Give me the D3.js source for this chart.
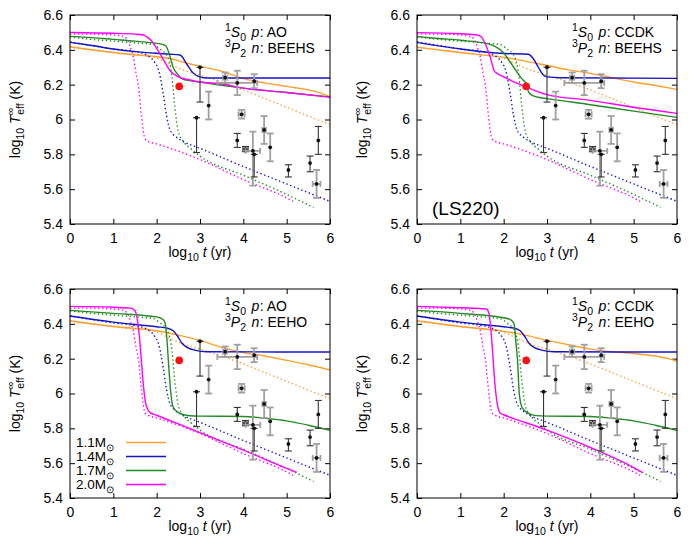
<!DOCTYPE html>
<html>
<head>
<meta charset="utf-8">
<script src="https://cdn.jsdelivr.net/npm/d3@7"></script>
<style>
  body { margin: 0; background: #fff; }
  svg { display: block; }
  text { font-family: "Liberation Sans", Arial, sans-serif; fill: #000; }
</style>
</head>
<body>
<svg id="chart" width="692" height="553"></svg>
<script>
// axis ticks
var xTicks = [0, 1, 2, 3, 4, 5, 6];
var yTicks = [5.4, 5.6, 5.8, 6.0, 6.2, 6.4, 6.6];

var masses = ["1.1", "1.4", "1.7", "2.0"];
var massColors = ["#ff9f2e", "#1414c8", "#228b22", "#ff00ff"];

// dotted curves (same in every panel)  [log t, log T]
var dotted11 = [[0,6.415],[0.5,6.40],[1,6.385],[1.5,6.37],[1.9,6.36],[2.2,6.33],[2.5,6.295],[3,6.255],[3.5,6.215],[4,6.17],[4.5,6.12],[5,6.07],[5.5,6.02],[6,5.97]];
var dotted14 = [[0,6.445],[0.5,6.425],[1,6.405],[1.5,6.39],[1.77,6.37],[1.95,6.33],[2.05,6.28],[2.15,6.15],[2.23,6.02],[2.31,5.94],[2.45,5.90],[2.6,5.875],[3,5.835],[4,5.73],[5,5.63],[6,5.53]];
var dotted17 = [[0,6.475],[0.5,6.46],[1,6.45],[1.5,6.44],[1.92,6.43],[2.1,6.40],[2.23,6.37],[2.35,6.25],[2.42,6.07],[2.5,5.93],[2.6,5.88],[2.8,5.83],[3,5.79],[4,5.68],[5,5.57],[5.62,5.495]];
var dotted20 = [[0,6.49],[0.5,6.49],[1,6.485],[1.2,6.48],[1.31,6.465],[1.4,6.41],[1.46,6.36],[1.52,6.27],[1.58,6.19],[1.65,6.02],[1.73,5.89],[1.8,5.875],[2,5.86],[3,5.77],[4,5.655],[5,5.55],[5.15,5.53]];

// solid curves, 1S0 p: AO / 3P2 n: BEEHS
var aoBeehs11 = [[0,6.418],[1,6.385],[2,6.36],[2.31,6.35],[2.6,6.33],[3,6.305],[3.46,6.28],[4,6.235],[4.5,6.21],[5,6.19],[5.5,6.17],[5.8,6.15],[6,6.13]];
var aoBeehs14 = [[0,6.443],[0.5,6.425],[1,6.405],[1.5,6.39],[2,6.38],[2.31,6.375],[2.54,6.37],[2.69,6.32],[2.85,6.265],[3.08,6.24],[3.3,6.238],[6,6.238]];
var aoBeehs17 = [[0,6.477],[0.5,6.47],[1,6.46],[1.5,6.45],[2,6.437],[2.15,6.43],[2.22,6.42],[2.31,6.36],[2.38,6.30],[2.5,6.255],[2.6,6.232],[3,6.215],[4,6.18],[5,6.155],[6,6.13]];
var aoBeehs20 = [[0,6.50],[0.5,6.497],[1,6.495],[1.5,6.49],[1.69,6.485],[1.8,6.47],[1.92,6.44],[2.02,6.40],[2.12,6.36],[2.31,6.28],[2.5,6.245],[2.77,6.227],[3,6.215],[3.46,6.205],[4,6.18],[5,6.155],[6,6.128]];

// 1S0 p: CCDK / 3P2 n: BEEHS
var ccdkBeehs11 = [[0,6.415],[1,6.385],[2,6.357],[2.5,6.335],[3,6.31],[3.5,6.285],[4,6.265],[4.5,6.24],[5,6.215],[5.5,6.195],[6,6.173]];
var ccdkBeehs14 = [[0,6.443],[1,6.405],[1.91,6.38],[2.57,6.375],[2.68,6.35],[2.8,6.30],[2.9,6.26],[3,6.245],[3.3,6.24],[6,6.236]];
var ccdkBeehs17 = [[0,6.476],[0.5,6.465],[1,6.455],[1.6,6.437],[1.8,6.42],[1.99,6.385],[2.15,6.33],[2.3,6.275],[2.45,6.225],[2.53,6.205],[2.57,6.16],[2.65,6.14],[2.8,6.128],[3,6.12],[4,6.085],[5,6.048],[6,6.012]];
var ccdkBeehs20 = [[0,6.499],[1,6.492],[1.4,6.485],[1.5,6.47],[1.6,6.42],[1.7,6.35],[1.78,6.28],[1.85,6.265],[2,6.245],[2.14,6.227],[2.5,6.188],[3,6.143],[4,6.11],[5,6.07],[6,6.035]];

// 1S0 p: AO / 3P2 n: EEHO
var aoEeho11 = [[0,6.418],[1,6.385],[2,6.36],[2.5,6.335],[3,6.305],[3.5,6.265],[4,6.235],[4.5,6.215],[5,6.19],[5.5,6.165],[6,6.135]];
var aoEeho14 = [[0,6.445],[1,6.41],[2,6.383],[2.25,6.375],[2.38,6.36],[2.48,6.33],[2.58,6.29],[2.7,6.265],[2.9,6.248],[3.15,6.24],[6,6.238]];
var aoEeho17 = [[0,6.477],[1,6.46],[2,6.44],[2.15,6.425],[2.2,6.40],[2.24,6.30],[2.28,6.15],[2.32,6.02],[2.37,5.93],[2.45,5.90],[2.6,5.88],[2.77,5.872],[3,5.87],[4,5.868],[4.5,5.858],[5,5.843],[5.5,5.818],[6,5.788]];
var aoEeho20 = [[0,6.50],[1,6.495],[1.4,6.49],[1.5,6.475],[1.55,6.43],[1.6,6.33],[1.65,6.18],[1.7,6.03],[1.76,5.93],[1.85,5.89],[2,5.875],[3,5.775],[4,5.675],[5,5.57],[5.23,5.547]];

// 1S0 p: CCDK / 3P2 n: EEHO
var ccdkEeho11 = [[0,6.418],[1,6.385],[2,6.357],[2.5,6.335],[3,6.305],[3.5,6.28],[4,6.255],[4.5,6.24],[5,6.23],[5.5,6.215],[5.8,6.20],[6,6.185]];
var ccdkEeho14 = [[0,6.445],[1,6.41],[2,6.383],[2.25,6.375],[2.38,6.36],[2.48,6.33],[2.58,6.29],[2.7,6.265],[2.9,6.248],[3.15,6.24],[6,6.238]];
var ccdkEeho17 = [[0,6.477],[1,6.46],[2,6.435],[2.15,6.425],[2.24,6.40],[2.28,6.30],[2.32,6.19],[2.36,6.0],[2.43,5.917],[2.55,5.89],[2.74,5.873],[3,5.87],[4,5.868],[4.5,5.858],[5,5.843],[5.5,5.818],[6,5.788]];
var ccdkEeho20 = [[0,6.50],[1,6.492],[1.6,6.485],[1.66,6.46],[1.73,6.29],[1.8,6.05],[1.86,5.93],[1.93,5.885],[2,5.878],[3,5.79],[4,5.69],[5,5.575],[5.2,5.547]];

// observed neutron stars
var obsAge     = [3.00, 2.92, 3.20, 3.58, 3.86, 4.25, 3.96, 3.86, 4.05, 4.22, 4.25, 4.48, 4.62, 5.04, 5.54, 5.73, 5.69];
var obsTemp    = [6.30, 6.01, 6.08, 6.24, 6.21, 6.22, 6.03, 5.88, 5.83, 5.82, 5.80, 5.94, 5.84, 5.71, 5.75, 5.88, 5.63];
var obsTempLo  = [0.20, 0.20, 0.08, 0.03, 0.07, 0.04, 0.025, 0.04, 0.015, 0.20, 0.13, 0.08, 0.08, 0.04, 0.05, 0.08, 0.08];
var obsTempHi  = [0.00, 0.00, 0.08, 0.03, 0.07, 0.04, 0.025, 0.04, 0.015, 0.11, 0.00, 0.08, 0.08, 0.03, 0.04, 0.08, 0.08];
var obsAgeErr  = [0, 0, 0, 0.05, 0.46, 0, 0.07, 0, 0.06, 0.17, 0, 0.04, 0, 0, 0, 0, 0.09];
var obsGray    = [0, 0, 1, 1, 1, 1, 1, 0, 0, 1, 0, 1, 1, 0, 0, 0, 1];

// the highlighted source
var redAge = 2.52, redTemp = 6.19;

var panels = [
  { left: 70,  top: 15,  p: "AO",   n: "BEEHS", curves: [aoBeehs11, aoBeehs14, aoBeehs17, aoBeehs20] },
  { left: 417, top: 15,  p: "CCDK", n: "BEEHS", curves: [ccdkBeehs11, ccdkBeehs14, ccdkBeehs17, ccdkBeehs20], tag: "(LS220)" },
  { left: 70,  top: 289, p: "AO",   n: "EEHO",  curves: [aoEeho11, aoEeho14, aoEeho17, aoEeho20], legend: true },
  { left: 417, top: 289, p: "CCDK", n: "EEHO",  curves: [ccdkEeho11, ccdkEeho14, ccdkEeho17, ccdkEeho20] }
];
var dottedCurves = [dotted11, dotted14, dotted17, dotted20];

var W = 260, H = 209, FS = 14;
var svg = d3.select("#chart");

var richText = function(sel, segs, size) {
  var cur = 0;
  segs.forEach(function(s) {
    var target = s.sup ? -0.42 * size : (s.sub ? 0.32 * size : 0);
    var ts = sel.append("tspan").text(s.t).attr("dy", target - cur);
    if (s.sup || s.sub) ts.attr("font-size", size * 0.75);
    if (s.it) ts.attr("font-style", "italic");
    if (s.dx) ts.attr("dx", s.dx);
    cur = target;
  });
};

var fmt = function(d) { return String(+d.toFixed(1)); };

panels.forEach(function(pn, pi) {
  var x = d3.scaleLinear().domain([0, 6]).range([0, W]);
  var y = d3.scaleLinear().domain([5.4, 6.6]).range([H, 0]);
  var g = svg.append("g").attr("transform", "translate(" + pn.left + "," + pn.top + ")");

  g.append("clipPath").attr("id", "clip" + pi)
    .append("rect").attr("width", W).attr("height", H);

  // axes, ticks inside, mirrored
  var styleAxis = function(a) {
    a.attr("font-size", FS).attr("font-family", "'Liberation Sans', Arial, sans-serif");
    a.select(".domain").remove();
    a.selectAll("line").attr("stroke", "#000");
  };
  g.append("g").attr("transform", "translate(0," + H + ")")
    .call(d3.axisBottom(x).tickValues(xTicks).tickFormat(fmt).tickSize(-5).tickPadding(9))
    .call(styleAxis);
  g.append("g")
    .call(d3.axisLeft(y).tickValues(yTicks).tickFormat(fmt).tickSize(-5).tickPadding(7))
    .call(styleAxis);
  g.append("g")
    .call(d3.axisTop(x).tickValues(xTicks).tickFormat("").tickSize(-5))
    .call(styleAxis);
  g.append("g").attr("transform", "translate(" + W + ",0)")
    .call(d3.axisRight(y).tickValues(yTicks).tickFormat("").tickSize(-5))
    .call(styleAxis);

  var line = d3.line()
    .x(function(d) { return x(d[0]); })
    .y(function(d) { return y(d[1]); })
    .curve(d3.curveMonotoneX);

  var plot = g.append("g").attr("clip-path", "url(#clip" + pi + ")");

  masses.forEach(function(m, i) {
    plot.append("path").datum(pn.curves[i])
      .attr("d", line).attr("fill", "none")
      .attr("stroke", massColors[i]).attr("stroke-width", 1.4);
    plot.append("path").datum(dottedCurves[i])
      .attr("d", line).attr("fill", "none")
      .attr("stroke", massColors[i]).attr("stroke-width", 1.4)
      .attr("stroke-dasharray", "1.4,2.6");
  });

  // observations with error bars
  var obs = obsAge.map(function(a, i) {
    return { a: a, T: obsTemp[i], lo: obsTempLo[i], hi: obsTempHi[i], ae: obsAgeErr[i], gray: obsGray[i] };
  });
  var og = plot.selectAll("g.obs").data(obs).enter().append("g").attr("class", "obs")
    .attr("stroke", function(d) { return d.gray ? "#a0a0a0" : "#333"; })
    .attr("stroke-width", function(d) { return d.gray ? 1.8 : 1.1; });
  og.append("line")
    .attr("x1", function(d) { return x(d.a); }).attr("x2", function(d) { return x(d.a); })
    .attr("y1", function(d) { return y(d.T + d.hi); }).attr("y2", function(d) { return y(d.T - d.lo); });
  og.append("line")
    .attr("x1", function(d) { return x(d.a) - 3.5; }).attr("x2", function(d) { return x(d.a) + 3.5; })
    .attr("y1", function(d) { return y(d.T + d.hi); }).attr("y2", function(d) { return y(d.T + d.hi); });
  og.append("line")
    .attr("x1", function(d) { return x(d.a) - 3.5; }).attr("x2", function(d) { return x(d.a) + 3.5; })
    .attr("y1", function(d) { return y(d.T - d.lo); }).attr("y2", function(d) { return y(d.T - d.lo); });
  var oh = og.filter(function(d) { return d.ae > 0; });
  oh.append("line")
    .attr("x1", function(d) { return x(d.a - d.ae); }).attr("x2", function(d) { return x(d.a + d.ae); })
    .attr("y1", function(d) { return y(d.T); }).attr("y2", function(d) { return y(d.T); });
  oh.append("line")
    .attr("x1", function(d) { return x(d.a - d.ae); }).attr("x2", function(d) { return x(d.a - d.ae); })
    .attr("y1", function(d) { return y(d.T) - 3; }).attr("y2", function(d) { return y(d.T) + 3; });
  oh.append("line")
    .attr("x1", function(d) { return x(d.a + d.ae); }).attr("x2", function(d) { return x(d.a + d.ae); })
    .attr("y1", function(d) { return y(d.T) - 3; }).attr("y2", function(d) { return y(d.T) + 3; });
  og.append("circle")
    .attr("cx", function(d) { return x(d.a); }).attr("cy", function(d) { return y(d.T); })
    .attr("r", 1.9).attr("fill", "#111").attr("stroke", "none");

  plot.append("circle").attr("cx", x(redAge)).attr("cy", y(redTemp))
    .attr("r", 3.8).attr("fill", "#ff1010");

  // frame
  g.append("rect").attr("width", W).attr("height", H)
    .attr("fill", "none").attr("stroke", "#000").attr("stroke-width", 1);

  // gap model labels
  var t1 = g.append("text").attr("x", 155).attr("y", 21.5).attr("font-size", FS);
  richText(t1, [{t: "1", sup: 1}, {t: "S", it: 1}, {t: "0", sub: 1}, {t: " p", it: 1, dx: 1.5}, {t: ": " + pn.p, dx: 0.5}], FS);
  var t2 = g.append("text").attr("x", 155).attr("y", 37.5).attr("font-size", FS);
  richText(t2, [{t: "3", sup: 1}, {t: "P", it: 1}, {t: "2", sub: 1}, {t: " n", it: 1, dx: 1.5}, {t: ": " + pn.n, dx: 0.5}], FS);

  if (pn.tag) {
    g.append("text").attr("x", 15).attr("y", H - 9).attr("font-size", 19).text(pn.tag);
  }

  // axis titles
  var xl = g.append("text").attr("x", W / 2).attr("y", H + 33).attr("text-anchor", "middle").attr("font-size", FS);
  richText(xl, [{t: "log"}, {t: "10", sub: 1}, {t: " t", it: 1}, {t: " (yr)"}], FS);
  var yl = g.append("text").attr("text-anchor", "middle").attr("font-size", FS)
    .attr("transform", "translate(" + (20 - 70) + "," + (H / 2) + ") rotate(-90)");
  richText(yl, [{t: "log"}, {t: "10", sub: 1}, {t: " T", it: 1}, {t: "\u221e", sup: 1}, {t: "eff", sub: 1, dx: -7}, {t: " (K)"}], FS);

  if (pn.legend) {
    masses.forEach(function(m, i) {
      var ly = 153.5 + 14 * i;
      var lt = g.append("text").attr("x", 6).attr("y", ly + 4.5).attr("font-size", 13.5);
      richText(lt, [{t: m + "M"}, {t: "\u2299", sub: 1}], 13.5);
      g.append("line").attr("x1", 56).attr("x2", 96).attr("y1", ly).attr("y2", ly)
        .attr("stroke", massColors[i]).attr("stroke-width", 1.5);
    });
  }
});
</script>
</body>
</html>
